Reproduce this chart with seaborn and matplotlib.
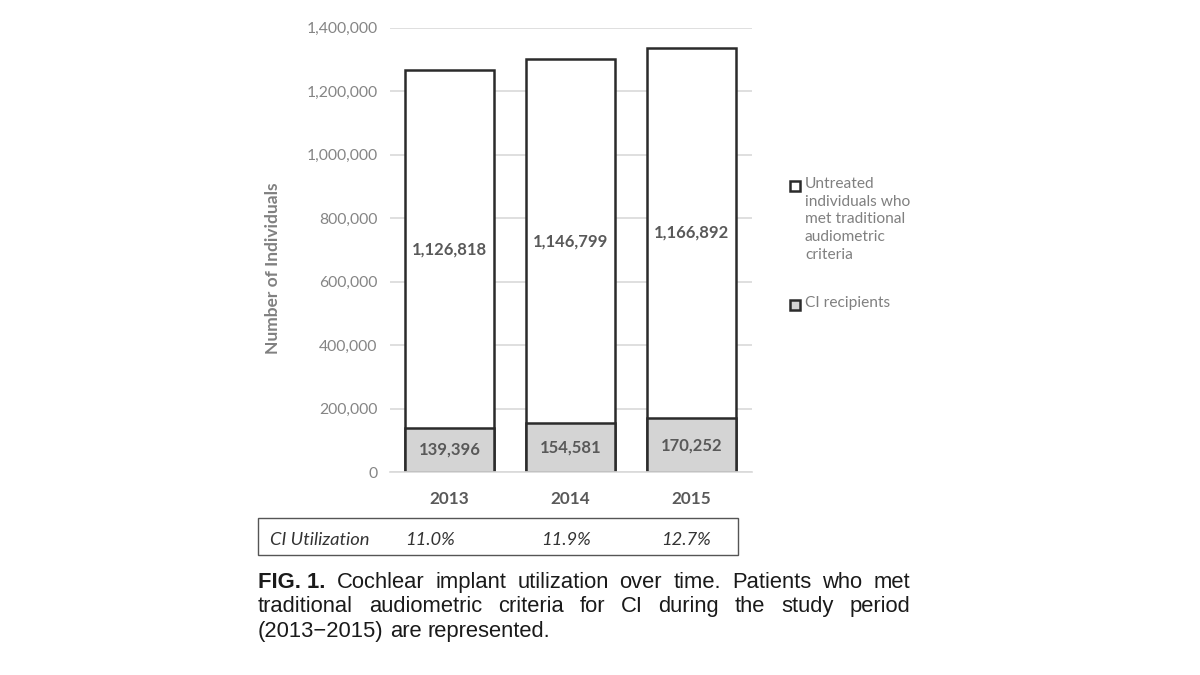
import matplotlib
matplotlib.use("Agg")
import matplotlib.pyplot as plt
import seaborn as sns
import pandas as pd
from matplotlib.patches import Rectangle
from matplotlib.ticker import FuncFormatter
from matplotlib import font_manager

years = ["2013", "2014", "2015"]
ci_recipients = [139396, 154581, 170252]
untreated = [1126818, 1146799, 1166892]
utilization = ["11.0%", "11.9%", "12.7%"]
yticks = [0, 200000, 400000, 600000, 800000, 1000000, 1200000, 1400000]
caption_lines = [
    ["FIG. 1.", "Cochlear", "implant", "utilization", "over", "time.", "Patients", "who", "met"],
    ["traditional", "audiometric", "criteria", "for", "CI", "during", "the", "study", "period"],
    ["(2013\u22122015)", "are", "represented."],
]

totals = [a + b for a, b in zip(ci_recipients, untreated)]
df = pd.DataFrame({"year": years, "ci": ci_recipients, "untreated": untreated, "total": totals})

sns.set_theme(style="white")
plt.rcParams["font.family"] = ["Lato", "DejaVu Sans"]

fig = plt.figure(figsize=(12, 6.75), dpi=100)
ax = fig.add_axes([0.325, 0.3007, 0.3017, 0.658])

edge = "#2b2b2b"
sns.barplot(data=df, x="year", y="total", color="white", edgecolor=edge,
            linewidth=1.8, width=0.74, ax=ax, saturation=1)
sns.barplot(data=df, x="year", y="ci", color="#d4d4d4", edgecolor=edge,
            linewidth=1.8, width=0.74, ax=ax, saturation=1)

ax.set_ylim(0, 1400000)
ax.set_xlim(-0.49, 2.50)
ax.set_yticks(yticks)
ax.yaxis.set_major_formatter(FuncFormatter(lambda v, p: f"{int(v):,}"))
ax.grid(axis="y", color="#d9d9d9", linewidth=1.2, zorder=0)
ax.set_axisbelow(True)
for s in ["left", "right", "top"]:
    ax.spines[s].set_visible(False)
ax.spines["bottom"].set_color("#d9d9d9")
ax.spines["bottom"].set_linewidth(1.2)
ax.tick_params(axis="y", length=0, labelsize=11.3, labelcolor="#858585", pad=9)
ax.tick_params(axis="x", length=0, labelsize=12.3, labelcolor="#595959", pad=14)
for t in ax.get_xticklabels():
    t.set_fontweight("bold")
ax.set_xlabel("")
ax.set_ylabel("")
fig.text(273 / 1200, 1 - 268 / 675, "Number of Individuals", rotation=90,
         ha="center", va="center", fontsize=12.5, color="#808080", fontweight="bold")

for i in range(len(years)):
    ax.text(i, ci_recipients[i] / 2, f"{ci_recipients[i]:,}", ha="center", va="center",
            fontsize=12, fontweight="bold", color="#595959")
    ax.text(i, ci_recipients[i] + untreated[i] / 2, f"{untreated[i]:,}", ha="center",
            va="center", fontsize=12, fontweight="bold", color="#595959")

# Legend
leg_items = [("white", "Untreated\nindividuals who\nmet traditional\naudiometric\ncriteria", 186),
             ("#d4d4d4", "CI recipients", 305)]
for fc, label, ypx in leg_items:
    fig.patches.append(Rectangle((790 / 1200, 1 - (ypx + 5) / 675), 10 / 1200, 10 / 675,
                                 transform=fig.transFigure, facecolor=fc,
                                 edgecolor=edge, linewidth=1.8))
    fig.text(805 / 1200, 1 - (ypx - 9) / 675, label, ha="left", va="top",
             fontsize=11.2, color="#808080", linespacing=1.33)

# Utilization table box
fig.patches.append(Rectangle((258 / 1200, 1 - 555 / 675), 480 / 1200, 37 / 675,
                             transform=fig.transFigure, facecolor="none",
                             edgecolor="#555555", linewidth=1.0))
fig.text(270 / 1200, 1 - 540 / 675, "CI Utilization", ha="left", va="center",
         fontsize=13.2, style="italic", color="#333333")
for u, xp in zip(utilization, [430, 566, 686]):
    fig.text(xp / 1200, 1 - 540 / 675, u, ha="center", va="center",
             fontsize=13.2, style="italic", color="#333333")

# Caption (justified)
names = {f.name for f in font_manager.fontManager.ttflist}
cap_family = "Liberation Sans Narrow" if "Liberation Sans Narrow" in names else "Liberation Sans"
cap_size = 16.5 if cap_family == "Liberation Sans Narrow" else 15.8
renderer = fig.canvas.get_renderer()
left_px, right_px = 258, 910
baselines = [588, 612, 637]
m1 = fig.text(0, 0, "a b", fontsize=cap_size, family=[cap_family])
m2 = fig.text(0, 0, "ab", fontsize=cap_size, family=[cap_family])
space = m1.get_window_extent(renderer).width - m2.get_window_extent(renderer).width
m1.remove()
m2.remove()
for li, (words, yb) in enumerate(zip(caption_lines, baselines)):
    texts = []
    for wi, w in enumerate(words):
        bold = (li == 0 and wi == 0)
        t = fig.text(0, 1 - yb / 675, w, ha="left", va="baseline", fontsize=cap_size,
                     fontweight="bold" if bold else "normal", color="#1a1a1a",
                     family=[cap_family, "DejaVu Sans"])
        texts.append(t)
    widths = [t.get_window_extent(renderer).width for t in texts]
    if li < 2:
        gap = (right_px - left_px - sum(widths)) / (len(words) - 1)
    else:
        gap = space
    x = left_px
    for t, w in zip(texts, widths):
        t.set_x(x / 1200)
        x += w + gap

fig.savefig("out.png", dpi=100, facecolor="white")
